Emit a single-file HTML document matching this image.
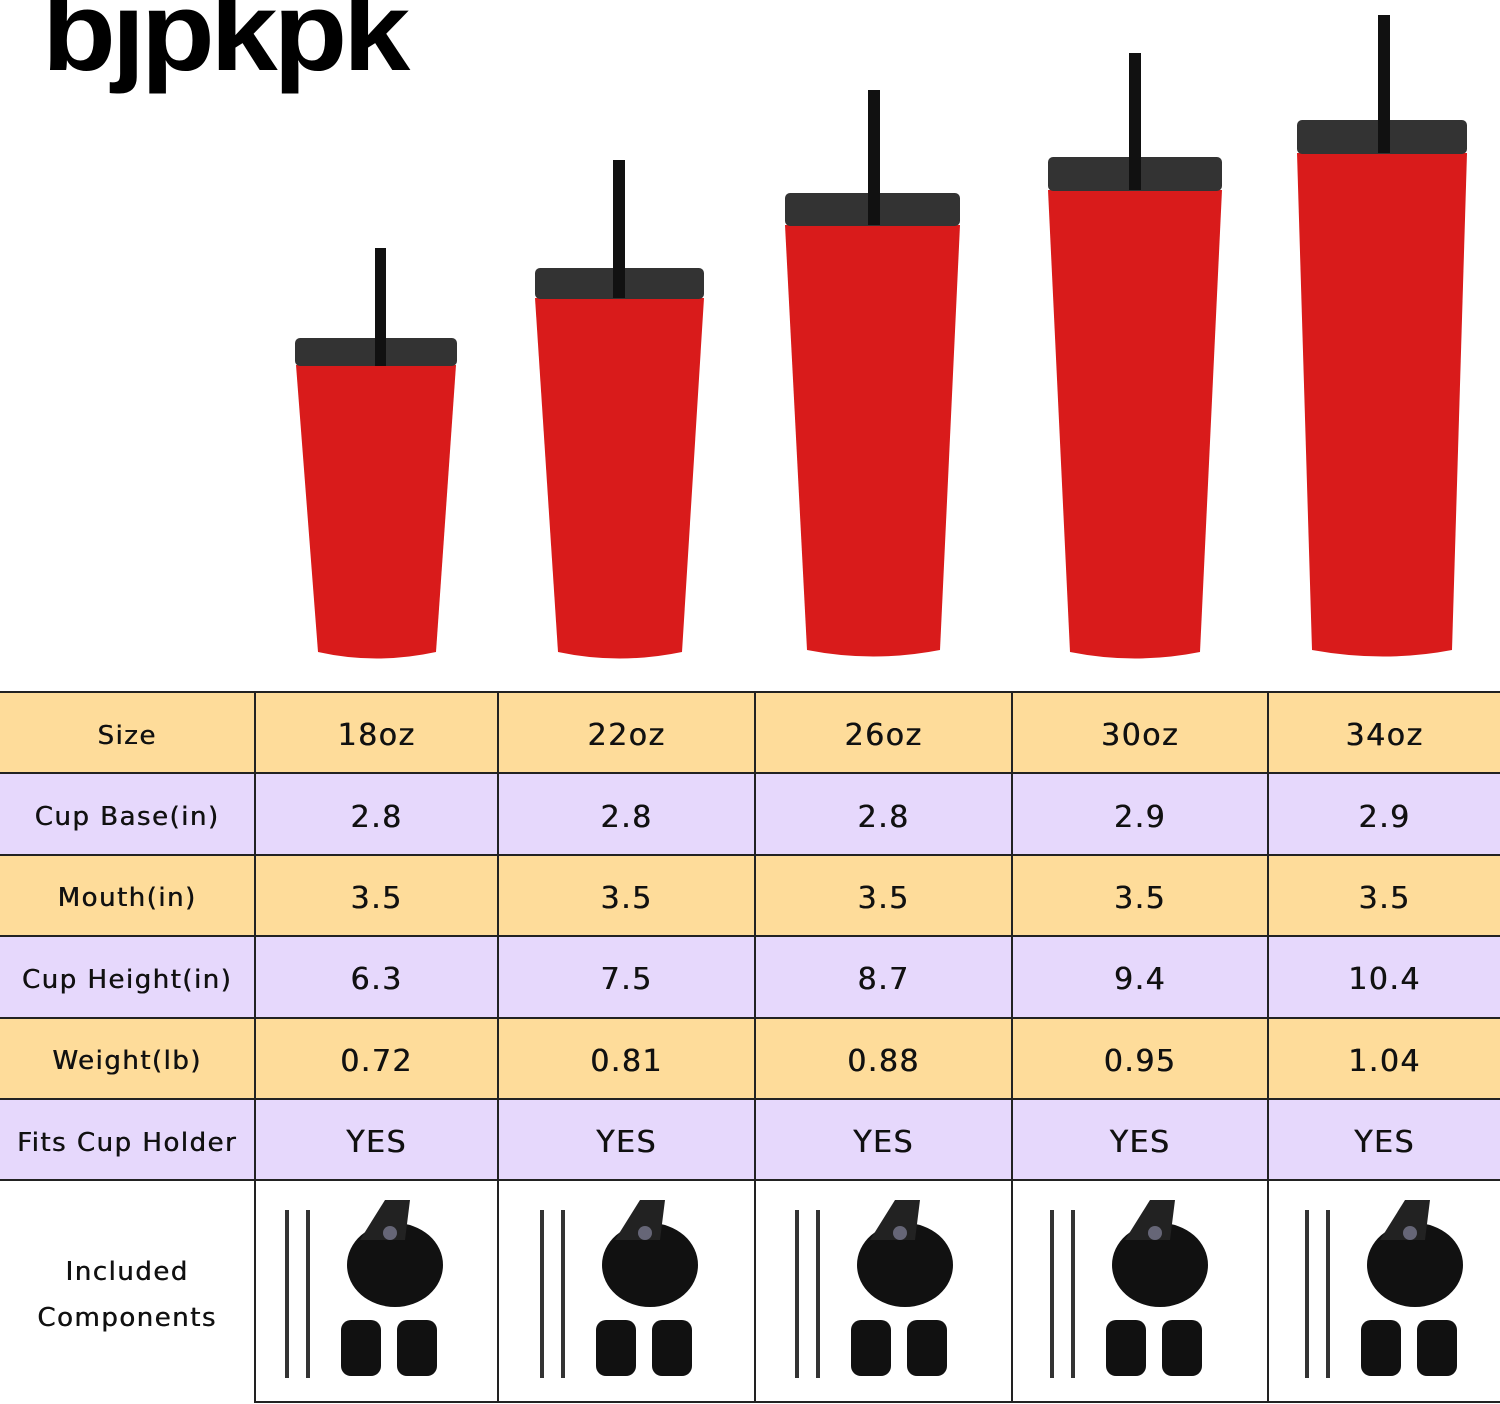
<!DOCTYPE html>
<html><head><meta charset="utf-8"><style>
body{margin:0;width:1500px;height:1404px;background:#fff;overflow:hidden;position:relative;font-family:"DejaVu Sans","Liberation Sans",sans-serif}
table{position:absolute;left:0;top:691px;border-collapse:collapse;width:1500px}
td{border:2px solid #222;text-align:center;color:#111;font-size:30px;letter-spacing:1.5px;padding:0;text-shadow:0.5px 0 0 #111;padding-top:6px;box-sizing:border-box}
td:first-child{font-size:26px;border-left:none}
td:last-child{border-right:none}
tr.o td{background:#fedc9a}
tr.p td{background:#e6d8fc}
tr.h td{height:81.4px}
.logo{position:absolute;left:42px;top:-33px;font:bold 112px "Liberation Sans",sans-serif;letter-spacing:-4px;transform:scaleX(1.08);transform-origin:left top;color:#000}
svg{position:absolute;left:0;top:0}
</style></head><body>
<div class="logo">bjpkpk</div>
<svg width="1500" height="690">
<path d="M296 365 L456 365 L436 652 Q376 665 318 652 Z" fill="#d91b1b"/>
<rect x="295" y="338" width="162" height="28" rx="5" fill="#333"/>
<rect x="375" y="248" width="11" height="118" fill="#111"/>
<path d="M535 298 L704 298 L682 652 Q619 665 558 652 Z" fill="#d91b1b"/>
<rect x="535" y="268" width="169" height="31" rx="5" fill="#333"/>
<rect x="613" y="160" width="12" height="138" fill="#111"/>
<path d="M785 225 L960 225 L940 650 Q873 663 807 650 Z" fill="#d91b1b"/>
<rect x="785" y="193" width="175" height="33" rx="5" fill="#333"/>
<rect x="868" y="90" width="12" height="135" fill="#111"/>
<path d="M1048 190 L1222 190 L1200 652 Q1135 665 1070 652 Z" fill="#d91b1b"/>
<rect x="1048" y="157" width="174" height="34" rx="5" fill="#333"/>
<rect x="1129" y="53" width="12" height="137" fill="#111"/>
<path d="M1297 153 L1467 153 L1452 650 Q1384 663 1312 650 Z" fill="#d91b1b"/>
<rect x="1297" y="120" width="170" height="34" rx="5" fill="#333"/>
<rect x="1378" y="15" width="12" height="138" fill="#111"/>
</svg>
<table>
<tr class="o h"><td style="width:255px">Size</td><td style="width:243px">18oz</td><td style="width:257px">22oz</td><td style="width:257px">26oz</td><td style="width:256px">30oz</td><td>34oz</td></tr>
<tr class="p h"><td>Cup Base(in)</td><td>2.8</td><td>2.8</td><td>2.8</td><td>2.9</td><td>2.9</td></tr>
<tr class="o h"><td>Mouth(in)</td><td>3.5</td><td>3.5</td><td>3.5</td><td>3.5</td><td>3.5</td></tr>
<tr class="p h"><td>Cup Height(in)</td><td>6.3</td><td>7.5</td><td>8.7</td><td>9.4</td><td>10.4</td></tr>
<tr class="o h"><td>Weight(lb)</td><td>0.72</td><td>0.81</td><td>0.88</td><td>0.95</td><td>1.04</td></tr>
<tr class="p h"><td>Fits Cup Holder</td><td>YES</td><td>YES</td><td>YES</td><td>YES</td><td>YES</td></tr>
<tr><td style="height:222px;line-height:46px;border-bottom:none">Included<br>Components</td><td></td><td></td><td></td><td></td><td></td></tr>
</table>
<svg width="1500" height="1404" style="pointer-events:none">
<defs><g id="k">
<rect x="30" y="1210" width="4" height="168" fill="#333"/>
<rect x="51" y="1210" width="4" height="168" fill="#333"/>
<ellipse cx="140" cy="1265" rx="48" ry="42" fill="#111"/>
<path d="M105 1240 L130 1200 L155 1200 L150 1240Z" fill="#222"/>
<circle cx="135" cy="1233" r="7" fill="#667"/>
<rect x="86" y="1320" width="40" height="56" rx="10" fill="#111"/>
<rect x="142" y="1320" width="40" height="56" rx="10" fill="#111"/>
</g></defs>
<use href="#k" x="255"/><use href="#k" x="510"/><use href="#k" x="765"/><use href="#k" x="1020"/><use href="#k" x="1275"/>
</svg>
</body></html>
